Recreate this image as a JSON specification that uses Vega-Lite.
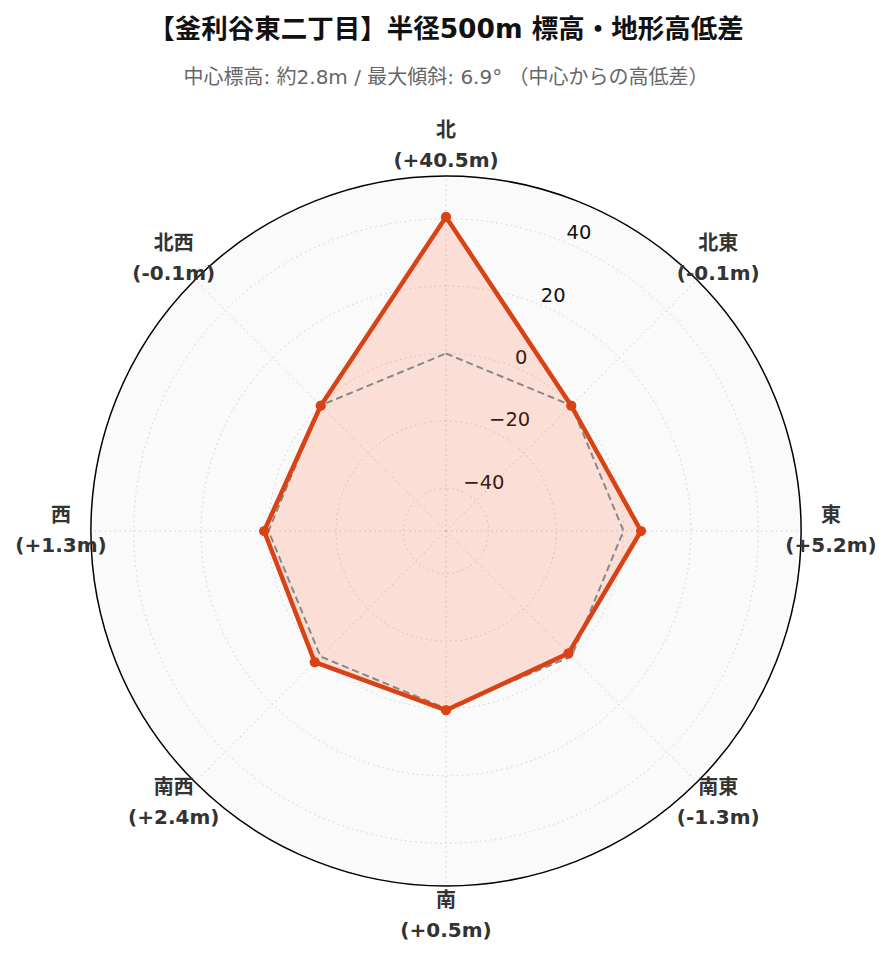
{
  "$schema": "https://vega.github.io/schema/vega-lite/v6.json",
  "autosize": "none",
  "width": 710,
  "height": 710,
  "padding": {"left": 91, "top": 176, "right": 92, "bottom": 76},
  "background": "white",
  "config": {"view": {"stroke": null}},
  "title": {
    "text": "【釜利谷東二丁目】半径500m 標高・地形高低差",
    "subtitle": "中心標高: 約2.8m / 最大傾斜: 6.9° （中心からの高低差）",
    "anchor": "middle",
    "frame": "group",
    "offset": 33,
    "font": "DejaVu Sans, Noto Sans CJK JP",
    "fontSize": 26.5,
    "fontWeight": "bold",
    "color": "#111111",
    "subtitleFont": "DejaVu Sans, Noto Sans CJK JP",
    "subtitleFontSize": 20,
    "subtitleColor": "#666666",
    "subtitlePadding": 24
  },
  "datasets": {
    "dirs": [
      {"dir": "北", "angle": 0, "diff": 40.5, "lab": "(+40.5m)", "i": 0},
      {"dir": "北東", "angle": 45, "diff": -0.1, "lab": "(-0.1m)", "i": 1},
      {"dir": "東", "angle": 90, "diff": 5.2, "lab": "(+5.2m)", "i": 2},
      {"dir": "南東", "angle": 135, "diff": -1.3, "lab": "(-1.3m)", "i": 3},
      {"dir": "南", "angle": 180, "diff": 0.5, "lab": "(+0.5m)", "i": 4},
      {"dir": "南西", "angle": 225, "diff": 2.4, "lab": "(+2.4m)", "i": 5},
      {"dir": "西", "angle": 270, "diff": 1.3, "lab": "(+1.3m)", "i": 6},
      {"dir": "北西", "angle": 315, "diff": -0.1, "lab": "(-0.1m)", "i": 7}
    ],
    "rings": [{"v": -40}, {"v": -20}, {"v": 0}, {"v": 20}, {"v": 40}],
    "outer": [{"v": 52.65}]
  },
  "layer": [
    {
      "data": {"name": "outer"},
      "mark": {"type": "arc", "fill": "#fafafa", "stroke": null},
      "encoding": {
        "radius": {"field": "v", "type": "quantitative", "stack": null, "scale": {"type": "linear", "domain": [-52.65, 52.65], "range": [0, 355], "zero": false}},
        "radius2": {"datum": -52.65}
      }
    },
    {
      "data": {"name": "rings"},
      "mark": {"type": "arc", "filled": false, "stroke": "#d0d0d0", "strokeWidth": 1, "strokeDash": [1.5, 3.5]},
      "encoding": {
        "radius": {"field": "v", "type": "quantitative", "stack": null, "scale": {"type": "linear", "domain": [-52.65, 52.65], "range": [0, 355], "zero": false}},
        "radius2": {"datum": -52.65}
      }
    },
    {
      "data": {"name": "dirs"},
      "transform": [
        {"calculate": "0", "as": "cx"},
        {"calculate": "105.3 * sin(datum.angle * PI / 180)", "as": "px"},
        {"calculate": "105.3 * cos(datum.angle * PI / 180)", "as": "py"}
      ],
      "mark": {"type": "rule", "stroke": "#d0d0d0", "strokeWidth": 1, "strokeDash": [1.5, 3.5]},
      "encoding": {
        "x": {"field": "cx", "type": "quantitative", "scale": {"domain": [-105.3, 105.3], "zero": false, "nice": false}, "axis": null},
        "y": {"field": "cx", "type": "quantitative", "scale": {"domain": [-105.3, 105.3], "zero": false, "nice": false}, "axis": null},
        "x2": {"field": "px"},
        "y2": {"field": "py"}
      }
    },
    {
      "data": {"name": "rings"},
      "transform": [
        {"calculate": "(datum.v + 52.65) * sin(PI / 8)", "as": "px"},
        {"calculate": "(datum.v + 52.65) * cos(PI / 8)", "as": "py"}
      ],
      "mark": {"type": "text", "align": "left", "baseline": "alphabetic", "dx": 1, "dy": -3, "font": "DejaVu Sans", "fontSize": 19.5, "color": "#111111"},
      "encoding": {
        "x": {"field": "px", "type": "quantitative", "scale": {"domain": [-105.3, 105.3], "zero": false, "nice": false}, "axis": null},
        "y": {"field": "py", "type": "quantitative", "scale": {"domain": [-105.3, 105.3], "zero": false, "nice": false}, "axis": null},
        "text": {"field": "v", "type": "quantitative", "format": "d"}
      }
    },
    {
      "data": {"name": "dirs"},
      "transform": [
        {"calculate": "(datum.diff + 52.65) * sin(datum.angle * PI / 180)", "as": "px"},
        {"calculate": "(datum.diff + 52.65) * cos(datum.angle * PI / 180)", "as": "py"}
      ],
      "mark": {"type": "line", "interpolate": "linear-closed", "fill": "#ff5722", "fillOpacity": 0.17, "stroke": null, "strokeWidth": 0},
      "encoding": {
        "x": {"field": "px", "type": "quantitative", "scale": {"domain": [-105.3, 105.3], "zero": false, "nice": false}, "axis": null},
        "y": {"field": "py", "type": "quantitative", "scale": {"domain": [-105.3, 105.3], "zero": false, "nice": false}, "axis": null},
        "order": {"field": "i", "type": "quantitative"}
      }
    },
    {
      "data": {"name": "dirs"},
      "transform": [
        {"calculate": "52.65 * sin(datum.angle * PI / 180)", "as": "px"},
        {"calculate": "52.65 * cos(datum.angle * PI / 180)", "as": "py"}
      ],
      "mark": {"type": "line", "interpolate": "linear-closed", "stroke": "#888888", "strokeWidth": 2, "strokeDash": [7, 4]},
      "encoding": {
        "x": {"field": "px", "type": "quantitative", "scale": {"domain": [-105.3, 105.3], "zero": false, "nice": false}, "axis": null},
        "y": {"field": "py", "type": "quantitative", "scale": {"domain": [-105.3, 105.3], "zero": false, "nice": false}, "axis": null},
        "order": {"field": "i", "type": "quantitative"}
      }
    },
    {
      "data": {"name": "dirs"},
      "transform": [
        {"calculate": "(datum.diff + 52.65) * sin(datum.angle * PI / 180)", "as": "px"},
        {"calculate": "(datum.diff + 52.65) * cos(datum.angle * PI / 180)", "as": "py"}
      ],
      "mark": {"type": "line", "interpolate": "linear-closed", "stroke": "#d84315", "strokeWidth": 4.5, "strokeJoin": "round"},
      "encoding": {
        "x": {"field": "px", "type": "quantitative", "scale": {"domain": [-105.3, 105.3], "zero": false, "nice": false}, "axis": null},
        "y": {"field": "py", "type": "quantitative", "scale": {"domain": [-105.3, 105.3], "zero": false, "nice": false}, "axis": null},
        "order": {"field": "i", "type": "quantitative"}
      }
    },
    {
      "data": {"name": "dirs"},
      "transform": [
        {"calculate": "(datum.diff + 52.65) * sin(datum.angle * PI / 180)", "as": "px"},
        {"calculate": "(datum.diff + 52.65) * cos(datum.angle * PI / 180)", "as": "py"}
      ],
      "mark": {"type": "point", "filled": true, "size": 105, "color": "#d84315", "opacity": 1},
      "encoding": {
        "x": {"field": "px", "type": "quantitative", "scale": {"domain": [-105.3, 105.3], "zero": false, "nice": false}, "axis": null},
        "y": {"field": "py", "type": "quantitative", "scale": {"domain": [-105.3, 105.3], "zero": false, "nice": false}, "axis": null}
      }
    },
    {
      "data": {"name": "outer"},
      "mark": {"type": "arc", "filled": false, "stroke": "#000000", "strokeWidth": 1.5},
      "encoding": {
        "radius": {"field": "v", "type": "quantitative", "stack": null, "scale": {"type": "linear", "domain": [-52.65, 52.65], "range": [0, 355], "zero": false}},
        "radius2": {"datum": -52.65}
      }
    },
    {
      "data": {"name": "dirs"},
      "transform": [
        {"calculate": "114.2 * sin(datum.angle * PI / 180)", "as": "px"},
        {"calculate": "114.2 * cos(datum.angle * PI / 180)", "as": "py"},
        {"calculate": "[datum.dir, datum.lab]", "as": "txt"}
      ],
      "mark": {"type": "text", "align": "center", "baseline": "middle", "dy": -15, "font": "DejaVu Sans, Noto Sans CJK JP", "fontSize": 20, "fontWeight": "bold", "color": "#333333", "lineHeight": 30},
      "encoding": {
        "x": {"field": "px", "type": "quantitative", "scale": {"domain": [-105.3, 105.3], "zero": false, "nice": false}, "axis": null},
        "y": {"field": "py", "type": "quantitative", "scale": {"domain": [-105.3, 105.3], "zero": false, "nice": false}, "axis": null},
        "text": {"field": "txt", "type": "nominal"}
      }
    }
  ]
}
